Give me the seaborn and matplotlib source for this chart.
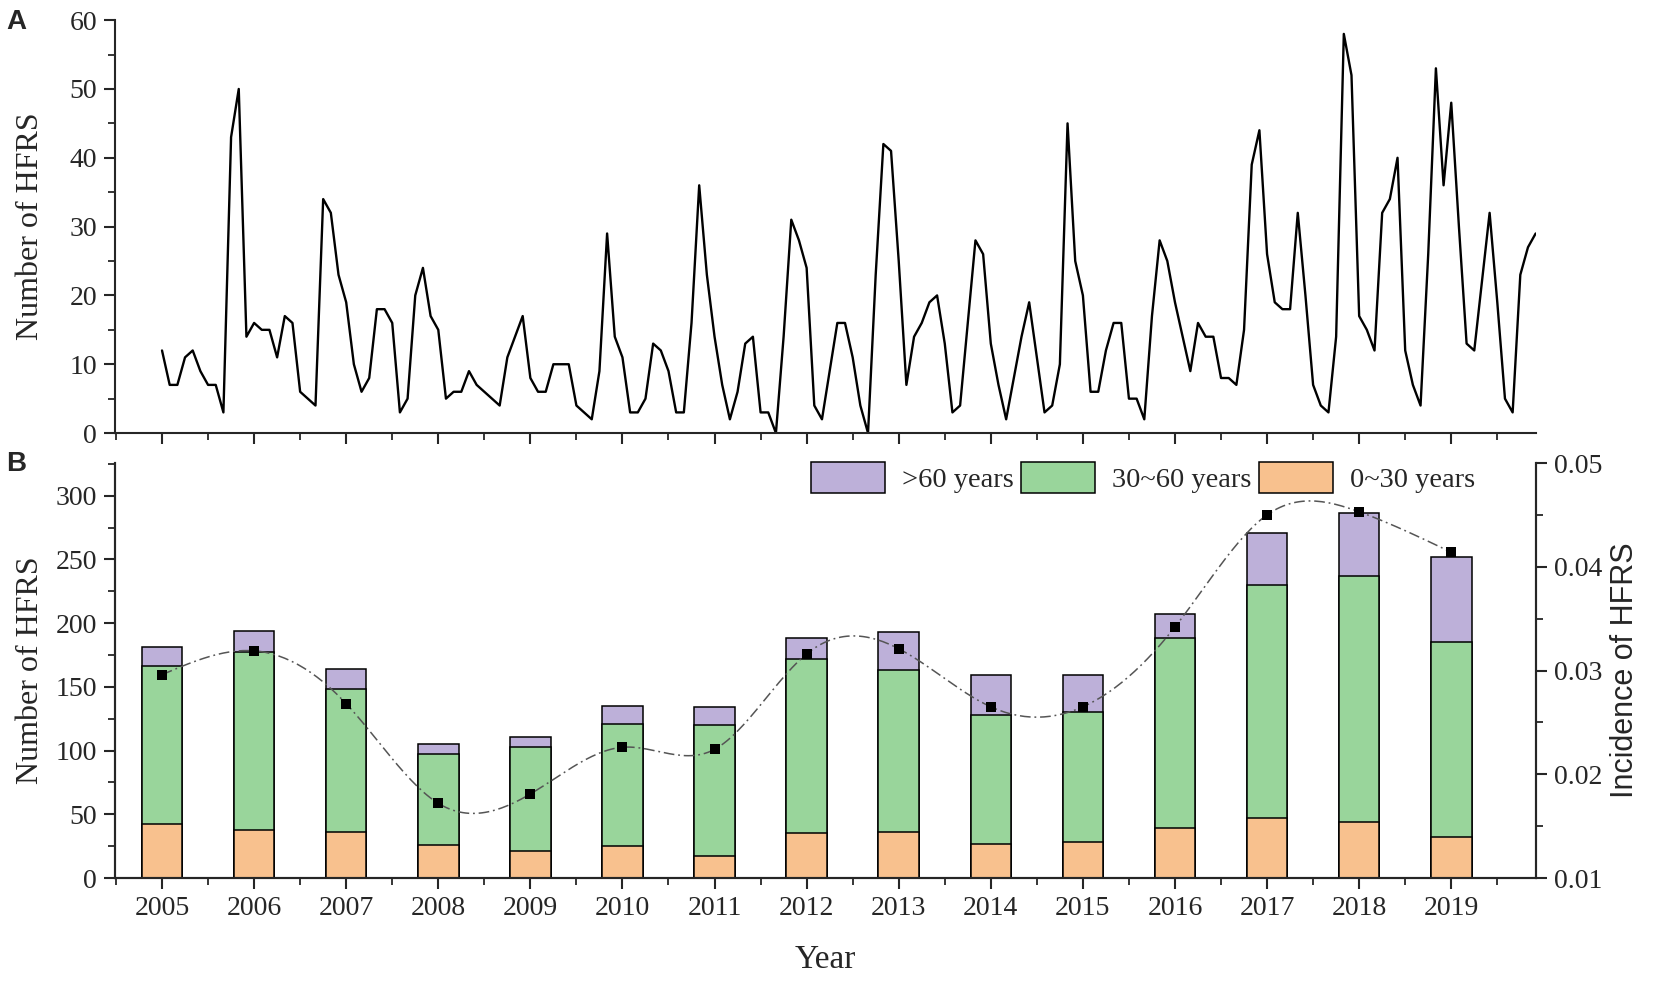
import numpy as np
import pandas as pd
import seaborn as sns
import matplotlib.pyplot as plt
from matplotlib.patches import Patch
from matplotlib.ticker import MultipleLocator

# monthly cases (panel A), one row per year Jan..Dec
m2005 = [12, 7, 7, 11, 12, 9, 7, 7, 3, 43, 50, 14]
m2006 = [16, 15, 15, 11, 17, 16, 6, 5, 4, 34, 32, 23]
m2007 = [19, 10, 6, 8, 18, 18, 16, 3, 5, 20, 24, 17]
m2008 = [15, 5, 6, 6, 9, 7, 6, 5, 4, 11, 14, 17]
m2009 = [8, 6, 6, 10, 10, 10, 4, 3, 2, 9, 29, 14]
m2010 = [11, 3, 3, 5, 13, 12, 9, 3, 3, 16, 36, 23]
m2011 = [14, 7, 2, 6, 13, 14, 3, 3, 0, 14, 31, 28]
m2012 = [24, 4, 2, 9, 16, 16, 11, 4, 0, 23, 42, 41]
m2013 = [25, 7, 14, 16, 19, 20, 13, 3, 4, 16, 28, 26]
m2014 = [13, 7, 2, 8, 14, 19, 11, 3, 4, 10, 45, 25]
m2015 = [20, 6, 6, 12, 16, 16, 5, 5, 2, 17, 28, 25]
m2016 = [19, 14, 9, 16, 14, 14, 8, 8, 7, 15, 39, 44]
m2017 = [26, 19, 18, 18, 32, 20, 7, 4, 3, 14, 58, 52]
m2018 = [17, 15, 12, 32, 34, 40, 12, 7, 4, 26, 53, 36]
m2019 = [48, 30, 13, 12, 22, 32, 19, 5, 3, 23, 27, 29]

# yearly cases by age group (panel B)
years = list(range(2005, 2020))
age_0_30 = [42, 38, 36, 26, 21, 25, 17, 35, 36, 27, 28, 39, 47, 44, 32]
age_30_60 = [124, 139, 112, 71, 82, 96, 103, 137, 127, 101, 102, 149, 183, 193, 153]
age_60 = [15, 17, 16, 8, 8, 14, 14, 16, 30, 31, 29, 19, 41, 49, 67]
incidence = [0.0296, 0.0319, 0.0268, 0.0172, 0.0181, 0.0226, 0.0224, 0.0316,
             0.0321, 0.0265, 0.0265, 0.0342, 0.0450, 0.0453, 0.0414]

c_young = '#F8C18E'
c_mid = '#99D59B'
c_old = '#BDB0D9'


def natural_spline(x, y, xs):
    x = np.asarray(x, float)
    y = np.asarray(y, float)
    n = len(x)
    h = np.diff(x)
    A = np.zeros((n, n))
    b = np.zeros(n)
    A[0, 0] = A[-1, -1] = 1
    for i in range(1, n - 1):
        A[i, i - 1] = h[i - 1]
        A[i, i] = 2 * (h[i - 1] + h[i])
        A[i, i + 1] = h[i]
        b[i] = 6 * ((y[i + 1] - y[i]) / h[i] - (y[i] - y[i - 1]) / h[i - 1])
    M = np.linalg.solve(A, b)
    k = np.clip(np.searchsorted(x, xs) - 1, 0, n - 2)
    t0 = x[k + 1] - xs
    t1 = xs - x[k]
    hk = h[k]
    return (M[k] * t0 ** 3 / (6 * hk) + M[k + 1] * t1 ** 3 / (6 * hk)
            + (y[k] / hk - M[k] * hk / 6) * t0 + (y[k + 1] / hk - M[k + 1] * hk / 6) * t1)


monthly = np.concatenate([m2005, m2006, m2007, m2008, m2009, m2010, m2011, m2012,
                          m2013, m2014, m2015, m2016, m2017, m2018, m2019])
df_m = pd.DataFrame({'t': 2005 + np.arange(len(monthly)) / 12, 'cases': monthly})

df_y = pd.DataFrame({'year': years, 'young': age_0_30, 'mid': age_30_60, 'old': age_60})
df_y['mid_top'] = df_y['young'] + df_y['mid']
df_y['total'] = df_y['mid_top'] + df_y['old']

sns.set_style('ticks')
plt.rcParams['font.family'] = ['Liberation Serif', 'DejaVu Serif']
plt.rcParams['axes.linewidth'] = 1.5
plt.rcParams['xtick.major.width'] = 1.5
plt.rcParams['ytick.major.width'] = 1.5
plt.rcParams['xtick.minor.width'] = 1.3
plt.rcParams['ytick.minor.width'] = 1.3

fig = plt.figure(figsize=(16.53, 9.82), dpi=100)
axA = fig.add_axes([0.0696, 0.559, 0.8596, 0.4205])
axB = fig.add_axes([0.0696, 0.1059, 0.8596, 0.4226])
xlim = (2004.49, 2019.92)

# panel A
sns.lineplot(data=df_m, x='t', y='cases', color='black', linewidth=1.7, ax=axA)
axA.set_xlim(xlim)
axA.set_ylim(0, 60)
axA.xaxis.set_major_locator(MultipleLocator(1))
axA.xaxis.set_minor_locator(MultipleLocator(0.5))
axA.yaxis.set_major_locator(MultipleLocator(10))
axA.yaxis.set_minor_locator(MultipleLocator(5))
axA.tick_params(axis='x', which='both', labelbottom=False)
axA.tick_params(which='major', length=8, labelsize=20, pad=5)
axA.tick_params(which='minor', length=5)
axA.set_xlabel('')
axA.set_ylabel('Number of HFRS', fontsize=23)
axA.yaxis.set_label_coords(-0.049, 0.5)
sns.despine(ax=axA)

# panel B: stacked bars drawn as overlapping cumulative bars
bar_kw = dict(x='year', native_scale=True, width=0.44, errorbar=None,
              edgecolor='black', linewidth=1.1, ax=axB)
sns.barplot(data=df_y, y='total', color=c_old, saturation=1, **bar_kw)
sns.barplot(data=df_y, y='mid_top', color=c_mid, saturation=1, **bar_kw)
sns.barplot(data=df_y, y='young', color=c_young, saturation=1, **bar_kw)
axB.set_xlim(xlim)
axB.set_ylim(0, 325.6)
axB.xaxis.set_major_locator(MultipleLocator(1))
axB.xaxis.set_minor_locator(MultipleLocator(0.5))
axB.yaxis.set_major_locator(MultipleLocator(50))
axB.yaxis.set_minor_locator(MultipleLocator(25))
axB.set_xticks(years)
axB.set_xticklabels([str(y) for y in years])
axB.tick_params(which='major', length=8, labelsize=20, pad=5)
axB.tick_params(which='minor', length=5)
axB.set_xlabel('Year', fontsize=24)
axB.xaxis.set_label_coords(0.5, -0.16)
axB.set_ylabel('Number of HFRS', fontsize=23)
axB.yaxis.set_label_coords(-0.049, 0.5)
axB.spines['top'].set_visible(False)

# incidence on the right axis
ax2 = axB.twinx()
xs = np.linspace(years[0], years[-1], 400)
df_s = pd.DataFrame({'x': xs, 'y': natural_spline(years, incidence, xs)})
sns.lineplot(data=df_s, x='x', y='y', color='#555555', linewidth=1.1,
             dashes=False, ax=ax2)
ax2.lines[-1].set_dashes([7, 2.5, 1.2, 2.5])
df_i = pd.DataFrame({'year': years, 'inc': incidence})
sns.scatterplot(data=df_i, x='year', y='inc', marker='s', s=55, color='black',
                edgecolor='black', linewidth=0, ax=ax2, zorder=5)
ax2.set_xlim(xlim)
ax2.set_ylim(0.01, 0.05)
ax2.yaxis.set_major_locator(MultipleLocator(0.01))
ax2.yaxis.set_minor_locator(MultipleLocator(0.005))
ax2.set_yticks([0.01, 0.02, 0.03, 0.04, 0.05])
ax2.set_yticklabels(['0.01', '0.02', '0.03', '0.04', '0.05'])
ax2.tick_params(which='major', length=8, labelsize=20, pad=5)
ax2.tick_params(which='minor', length=5)
ax2.set_xlabel('')
ax2.set_ylabel('Incidence of HFRS', fontsize=22, family=['Liberation Sans', 'DejaVu Sans'])
ax2.yaxis.set_label_coords(1.052, 0.5)
ax2.spines['top'].set_visible(False)

handles = [Patch(facecolor=c_old, edgecolor='black', linewidth=1.1, label='>60 years'),
           Patch(facecolor=c_mid, edgecolor='black', linewidth=1.1, label='30~60 years'),
           Patch(facecolor=c_young, edgecolor='black', linewidth=1.1, label='0~30 years')]
ax2.legend(handles=handles, loc='center right', bbox_to_anchor=(0.965, 0.965), ncol=3,
           frameon=False, fontsize=20.5, handlelength=2.6, handleheight=1.3,
           handletextpad=0.6, columnspacing=0.25, borderaxespad=0)

fig.text(0.004, 0.978, 'A', fontsize=20, fontweight='bold', va='center', ha='left',
         family=['Liberation Sans', 'DejaVu Sans'])
fig.text(0.004, 0.5275, 'B', fontsize=20, fontweight='bold', va='center', ha='left',
         family=['Liberation Sans', 'DejaVu Sans'])

fig.savefig('out.png', dpi=100)
